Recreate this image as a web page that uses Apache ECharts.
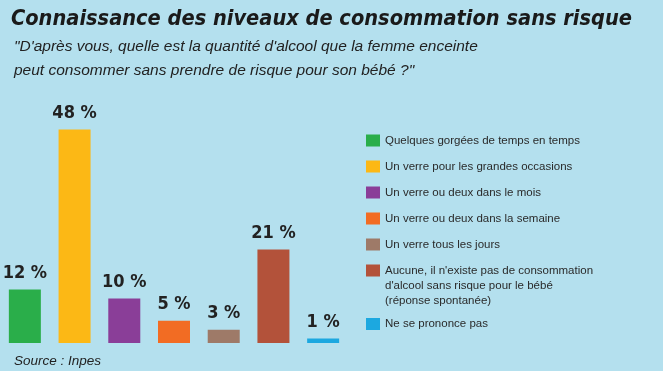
<!DOCTYPE html>
<html><head><meta charset="utf-8">
<script src="https://cdn.jsdelivr.net/npm/echarts@6/dist/echarts.min.js"></script>
<style>html,body{margin:0;padding:0;background:#b4e0ee;}#c{width:663px;height:371px;}</style>
</head><body><div id="c"></div>
<script>
const categories = ["Quelques gorgées de temps en temps","Un verre pour les grandes occasions","Un verre ou deux dans le mois","Un verre ou deux dans la semaine","Un verre tous les jours","Aucune, il n'existe pas de consommation","Ne se prononce pas"];
const legendExtraLines = "d'alcool sans risque pour le bébé\n(réponse spontanée)";
const values = [12, 48, 10, 5, 3, 21, 1];
const colors = ["#2aae4a","#fcb815","#8a3e98","#f26c23","#9e7a68","#b3523a","#1ca8e0"];
const titleText = "Connaissance des niveaux de consommation sans risque";
const subtitleText = "\"D'après vous, quelle est la quantité d'alcool que la femme enceinte\npeut consommer sans prendre de risque pour son bébé ?\"";
const sourceText = "Source : Inpes";

const series = categories.map((name, i) => ({
  name: name,
  type: 'bar',
  barWidth: 32,
  barGap: '-100%',
  itemStyle: {color: colors[i]},
  label: {show: true, position: 'top', distance: 7, formatter: '{c} %',
    fontFamily: 'DejaVu Sans Condensed', fontWeight: 'bold', fontSize: 18, color: '#222'},
  data: categories.map((c, j) => j === i ? values[i] : '-')
}));

const legendBase = {
  orient: 'vertical', left: 366, padding: 0,
  itemWidth: 14, itemHeight: 12, itemGap: 11,
  icon: 'rect', selectedMode: false,
  textStyle: {fontFamily: 'Liberation Sans', fontSize: 11.5, lineHeight: 15, color: '#2a2a2a'}
};

const chart = echarts.init(document.getElementById('c'));
chart.setOption({
  backgroundColor: '#b4e0ee',
  animation: false,
  title: [
    {text: titleText, left: 6, top: 3,
     textStyle: {fontFamily: 'DejaVu Sans Condensed', fontStyle: 'italic', fontWeight: 'bold', fontSize: 21.6, color: '#1a1a1a'}},
    {text: subtitleText, left: 9, top: 30,
     textStyle: {fontFamily: 'Liberation Sans', fontStyle: 'italic', fontWeight: 'normal', fontSize: 15.5, lineHeight: 24, color: '#222'}},
    {text: sourceText, left: 9, top: 349,
     textStyle: {fontFamily: 'Liberation Sans', fontStyle: 'italic', fontWeight: 'normal', fontSize: 13.5, color: '#222'}}
  ],
  grid: {left: 0, width: 348, top: 76, bottom: 28},
  xAxis: {type: 'category', data: categories, show: false},
  yAxis: {type: 'value', min: 0, max: 60, show: false},
  legend: [
    Object.assign({}, legendBase, {top: 133, data: categories.slice(0, 6)}),
    Object.assign({}, legendBase, {top: 316.5, data: categories.slice(6)})
  ],
  graphic: [{
    type: 'text', left: 385, top: 279,
    style: {text: legendExtraLines, fontFamily: 'Liberation Sans', fontSize: 11.5, lineHeight: 14.5, fill: '#2a2a2a'}
  }],
  series: series
});
</script></body></html>
